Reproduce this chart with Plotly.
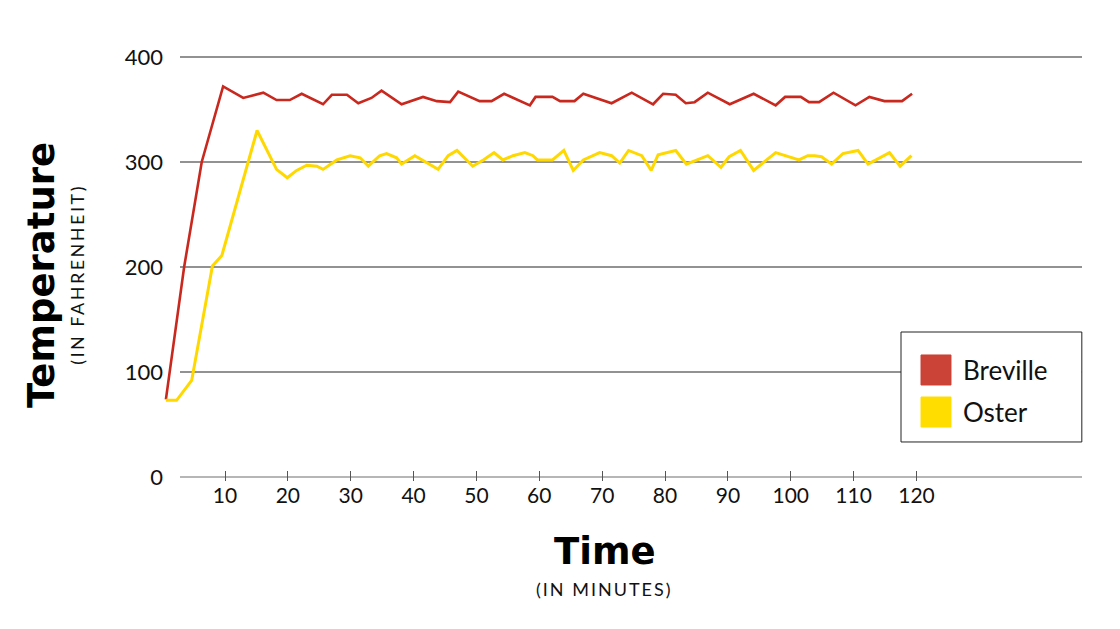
import plotly.graph_objects as go

# ---- data (minutes, degrees Fahrenheit) ----
series_names = ["Breville", "Oster"]
series_colors = ["#c8281e", "#ffd800"]
swatch_colors = ["#cb4236", "#ffdd00"]

breville_x = [0.6, 3.5, 6.3, 9.7, 12.9, 16.1, 18.2, 20.3, 22.2, 25.6, 27.0, 29.4, 31.2, 33.3, 34.9,
              38.1, 41.5, 43.7, 45.8, 47.1, 50.5, 52.4, 54.4, 58.5, 59.4, 62.1, 63.3, 65.6, 67.0, 71.5,
              74.7, 78.1, 79.7, 81.7, 83.3, 84.7, 86.8, 90.3, 94.1, 97.6, 99.1, 101.6, 102.9, 104.5,
              106.8, 110.3, 112.5, 114.9, 117.7, 119.3]
breville_y = [74, 200, 300, 372, 361, 366, 359, 359, 365, 355, 364, 364, 356, 361, 368,
              355, 362, 358, 357, 367, 358, 358, 365, 354, 362, 362, 358, 358, 365, 356,
              366, 355, 365, 364, 356, 357, 366, 355, 365, 354, 362, 362, 357, 357,
              366, 354, 362, 358, 358, 365]

oster_x = [0.6, 2.3, 4.7, 8.0, 9.5, 15.1, 18.2, 19.9, 21.4, 23.0, 24.6, 25.6, 27.8, 29.9, 31.5,
           32.8, 34.6, 35.7, 37.3, 38.1, 40.2, 43.9, 45.5, 46.9, 49.4, 51.1, 52.8, 54.2, 55.8,
           57.7, 59.0, 59.7, 62.1, 63.9, 65.4, 67.0, 69.6, 71.5, 72.8, 74.2, 76.3, 77.8, 78.9,
           81.7, 83.4, 85.5, 86.8, 88.9, 90.2, 92.0, 94.1, 97.6, 101.3, 102.7, 103.8, 104.9,
           106.5, 108.3, 110.7, 112.3, 115.7, 117.4, 119.2]
oster_y = [73, 73, 92, 201, 211, 330, 293, 285, 292, 297, 296, 293, 302, 306, 304,
           296, 306, 308, 304, 298, 306, 293, 306, 311, 296, 302, 309, 302, 306,
           309, 306, 302, 302, 311, 292, 302, 309, 306, 299, 311, 306, 292, 307,
           311, 298, 303, 306, 295, 305, 311, 292, 309, 302, 306, 306, 305,
           298, 308, 311, 298, 309, 296, 306]

x_tickvals = [10, 20, 30, 40, 50, 60, 70, 80, 90, 100, 110, 120]
y_tickvals = [0, 100, 200, 300, 400]

FONT = "Lato"
TITLE_FONT = "DejaVu Sans"

fig = go.Figure()
fig.add_trace(go.Scatter(x=breville_x, y=breville_y, mode="lines", name=series_names[0],
                         line=dict(color=series_colors[0], width=2.6), showlegend=False))
fig.add_trace(go.Scatter(x=oster_x, y=oster_y, mode="lines", name=series_names[1],
                         line=dict(color=series_colors[1], width=3), showlegend=False))

GRID_X0 = 0.0217  # gridlines begin a little right of the plot's left edge

shapes = []
for v in y_tickvals:
    shapes.append(dict(type="line", xref="paper", yref="y", x0=GRID_X0, x1=1, y0=v, y1=v,
                       line=dict(color="#6e6e6e", width=1.4 if v else 1.2), layer="below"))

# legend box (manual, square swatches)
LEG = dict(x0=0.8037, x1=0.9998, y0=0.0897, y1=0.3425)
shapes.append(dict(type="rect", xref="paper", yref="paper", **LEG,
                   fillcolor="white", line=dict(color="#222222", width=1), layer="above"))
sw_rows = [(0.2207, 0.2897), (0.1241, 0.1931)]
annotations = []
for name, col, (ya, yb) in zip(series_names, swatch_colors, sw_rows):
    shapes.append(dict(type="rect", xref="paper", yref="paper", x0=0.8254, x1=0.8579, y0=ya, y1=yb,
                       fillcolor=col, line=dict(color=col, width=1), layer="above"))
    annotations.append(dict(text=name, xref="paper", yref="paper", x=0.8688, y=(ya + yb) / 2,
                            xanchor="left", yanchor="middle", showarrow=False,
                            font=dict(family=FONT, size=26, color="#111111")))


def tracked(s, px):
    return '<span style="letter-spacing:%spx">%s</span>' % (px, s)


annotations += [
    dict(text="Temperature", xref="paper", yref="paper", x=-0.128, y=0.4736, textangle=-90,
         xanchor="center", yanchor="middle", showarrow=False,
         font=dict(family=TITLE_FONT, size=37, color="#000000", weight="bold")),
    dict(text=tracked("(IN FAHRENHEIT)", 2.5), xref="paper", yref="paper", x=-0.0895, y=0.475,
         textangle=-90, xanchor="center", yanchor="middle", showarrow=False,
         font=dict(family=FONT, size=18, color="#111111")),
    dict(text="Time", xref="paper", yref="paper", x=0.4826, y=-0.163,
         xanchor="center", yanchor="middle", showarrow=False,
         font=dict(family=TITLE_FONT, size=37, color="#000000", weight="bold")),
    dict(text=tracked("(IN MINUTES)", 2), xref="paper", yref="paper", x=0.4826, y=-0.248,
         xanchor="center", yanchor="middle", showarrow=False,
         font=dict(family=FONT, size=18, color="#111111")),
]

fig.update_layout(
    width=1120, height=629,
    margin=dict(l=160, r=38, t=46, b=148),
    paper_bgcolor="white", plot_bgcolor="white",
    font=dict(family=FONT, color="#111111"),
    shapes=shapes, annotations=annotations,
    xaxis=dict(range=[-0.34, 146.33], tickvals=x_tickvals, ticks="inside", ticklen=10,
               tickcolor="#555555", tickwidth=1, showgrid=False, zeroline=False, showline=False,
               tickfont=dict(family=FONT, size=21, color="#111111")),
    yaxis=dict(range=[-3.8, 410.5], tickvals=y_tickvals, ticks="", showgrid=False,
               zeroline=False, showline=False, ticklabelstandoff=-4,
               tickfont=dict(family=FONT, size=22, color="#111111")),
)

fig.write_html("out.html")
